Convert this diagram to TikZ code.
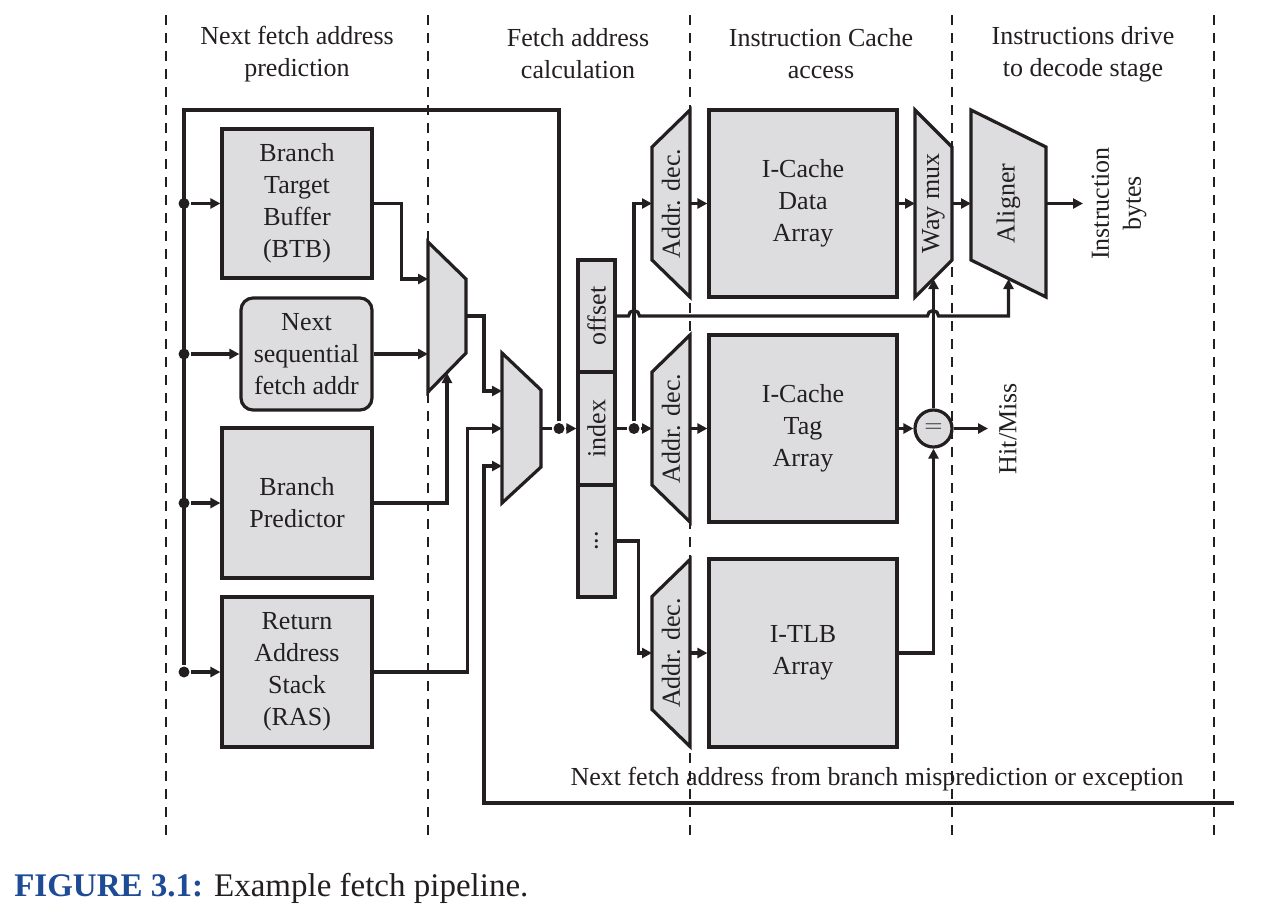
\documentclass[tikz,border=0pt]{standalone}
\usepackage{fontspec}
\setmainfont{Liberation Serif}
\usetikzlibrary{arrows.meta}

\definecolor{blockgray}{RGB}{221,221,224}
\definecolor{ink}{RGB}{35,31,32}
\definecolor{capblue}{RGB}{30,75,150}

\newcommand*{\ytop}{15}
\newcommand*{\ybot}{838}

\begin{document}
\begin{tikzpicture}
[
	blk/.style={draw,fill=blockgray,align=center,inner sep=0pt},
	fld/.style={draw,fill=blockgray,rotate=90,inner sep=0pt,minimum width=56pt,minimum height=18.5pt},
	jdot/.style={circle,fill,inner sep=0pt,minimum size=5.5pt},
	sep/.style={line width=0.7pt,dash pattern=on 5pt off 4pt},
	>={Triangle[length=5pt,width=5pt]},
	font=\fontsize{13}{16}\selectfont,
	color=ink,
	line width=1.6pt,
	x=0.5pt,
	y=-0.5pt
]

	\useasboundingbox (0,0) rectangle (1264,912);

	% stage separators
	\draw[sep] (166,\ytop) -- (166,\ybot);
	\draw[sep] (428,\ytop) -- (428,\ybot);
	\draw[sep] (690,\ytop) -- (690,\ybot);
	\draw[sep] (952,\ytop) -- (952,\ybot);
	\draw[sep] (1214,\ytop) -- (1214,\ybot);

	\node[align=center] (hdrpred) at (297,54) {Next fetch address\\prediction};
	\node[align=center] (hdrcalc) at (578,54) {Fetch address\\calculation};
	\node[align=center] (hdrcache) at (821,54) {Instruction Cache\\access};
	\node[align=center] (hdrdrive) at (1083,54) {Instructions drive\\to decode stage};

	% predictors
	\node[blk,minimum width=75pt,minimum height=74.5pt] (btb) at (297,203.5) {Branch\\Target\\Buffer\\(BTB)};
	\node[blk,rounded corners=6pt,minimum width=65.5pt,minimum height=56pt] (nsfa) at (306.5,354) {Next\\sequential\\fetch addr};
	\node[blk,minimum width=75pt,minimum height=75pt] (bp) at (297,503) {Branch\\Predictor};
	\node[blk,minimum width=75pt,minimum height=75pt] (ras) at (297,672) {Return\\Address\\Stack\\(RAS)};

	% multiplexers
	\draw[fill=blockgray] (428,242) -- (466,279) -- (466,353) -- (428,392) -- cycle;
	\coordinate (m1a) at (428,279);
	\coordinate (m1b) at (428,354);
	\coordinate (m1c) at (447,373);
	\coordinate (m1o) at (466,316);

	\draw[fill=blockgray] (502,353) -- (541,390) -- (541,467) -- (502,503) -- cycle;
	\coordinate (m2a) at (502,391);
	\coordinate (m2b) at (502,428.5);
	\coordinate (m2c) at (502,466);
	\coordinate (m2o) at (541,428.5);

	% fetch address fields
	\node[fld] (offset) at (596.5,316) {offset};
	\node[fld] (index) at (596.5,428.5) {index};
	\node[fld] (rest) at (596.5,541) {...};

	% address decoders
	\draw[fill=blockgray] (652,147) -- (690,110) -- (690,297) -- (652,260) -- cycle;
	\node[rotate=90] (addata) at (671,203.5) {Addr. dec.};
	\draw[fill=blockgray] (652,372) -- (690,335) -- (690,522) -- (652,485) -- cycle;
	\node[rotate=90] (adtag) at (671,428.5) {Addr. dec.};
	\draw[fill=blockgray] (652,596.5) -- (690,559.5) -- (690,746.5) -- (652,709.5) -- cycle;
	\node[rotate=90] (adtlb) at (671,653) {Addr. dec.};
	\coordinate (ad1i) at (652,203.5);
	\coordinate (ad1o) at (690,203.5);
	\coordinate (ad2i) at (652,428.5);
	\coordinate (ad2o) at (690,428.5);
	\coordinate (ad3i) at (652,653);
	\coordinate (ad3o) at (690,653);

	% arrays
	\node[blk,minimum width=94pt,minimum height=93.5pt] (data) at (803,203.5) {I-Cache\\Data\\Array};
	\node[blk,minimum width=94pt,minimum height=93.5pt] (tag) at (803,428.5) {I-Cache\\Tag\\Array};
	\node[blk,minimum width=94pt,minimum height=94pt] (tlb) at (803,653) {I-TLB\\Array};

	\draw[fill=blockgray] (915,110) -- (952,147) -- (952,260) -- (915,297) -- cycle;
	\node[rotate=90] (waymux) at (933.5,203.5) {Way mux};
	\coordinate (wmi) at (915,203.5);
	\coordinate (wmo) at (952,203.5);
	\coordinate (wms) at (933.5,279);

	\draw[fill=blockgray] (971,110) -- (1046,147) -- (1046,297) -- (971,260) -- cycle;
	\node[rotate=90] (aligner) at (1008.5,203.5) {Aligner};
	\coordinate (ali) at (971,203.5);
	\coordinate (alo) at (1046,203.5);
	\coordinate (als) at (1008.5,279);

	\node[blk,circle,minimum size=18.5pt] (eq) at (933.5,428.5) {$=$};

	\coordinate (ib) at (1083,203.5);
	\node[rotate=90,align=center] (ibytes) at (1119,203.5) {Instruction\\bytes};
	\coordinate (hm) at (988,428.5);
	\node[rotate=90] (hitmiss) at (1008,428.5) {Hit/Miss};

	% bus and junctions
	\node[jdot] (d1) at (184,203.5) {};
	\node[jdot] (d2) at (184,354) {};
	\node[jdot] (d3) at (184,503) {};
	\node[jdot] (d4) at (184,672) {};
	\node[jdot] (fb) at (559,428.5) {};
	\node[jdot] (idot) at (634,428.5) {};
	\coordinate (topl) at (184,110);

	\draw (fb) |- (topl) -- (d4);
	\draw[->] (d1) -- (btb);
	\draw[->] (d2) -- (nsfa);
	\draw[->] (d3) -- (bp);
	\draw[->] (d4) -- (ras);

	\draw[->] (btb.east) -- ++(28,0) |- (m1a);
	\draw[->] (nsfa.east) -- (m1b);
	\draw[->] (bp.east) -| (m1c);
	\draw[->] (m1o) -- ++(18,0) |- (m2a);
	\draw[->] (ras.east) -- ++(94,0) |- (m2b);

	\coordinate (mp) at (1234,803);
	\draw[->] (mp) -| (484,466) -- (m2c);
	\node (mptext) at (877,779) {Next fetch address from branch misprediction or exception};

	\draw (m2o) -- (fb);
	\draw[->] (fb) -- (index.north);
	\draw (index.south) -- (idot);
	\draw[->] (idot) -- (ad2i);
	\draw[->] (idot) |- (ad1i);
	\draw[->] (rest.south) -- ++(22,0) |- (ad3i);

	\draw[->] (ad1o) -- (data);
	\draw[->] (ad2o) -- (tag);
	\draw[->] (ad3o) -- (tlb);

	\draw[->] (data) -- (wmi);
	\draw[->] (wmo) -- (ali);
	\draw[->] (alo) -- (ib);
	\draw[->] (tag) -- (eq);
	\draw[->] (eq) -- (hm);
	\draw[->] (eq) -- (wms);
	\draw[->] (tlb.east) -| (eq.south);

	% offset goes over the two vertical lines
	\draw[->] (offset.south) -- (628.5,316) arc[start angle=180,end angle=0,radius=2.75pt]
		-- (927.5,316) arc[start angle=180,end angle=0,radius=2.75pt] -- (1008.5,316) -- (als);

	\node[anchor=west,font=\fontsize{16.5}{20}\selectfont] (caption) at (6,888)
		{\textcolor{capblue}{\bfseries FIGURE 3.1:} Example fetch pipeline.};

\end{tikzpicture}
\end{document}
